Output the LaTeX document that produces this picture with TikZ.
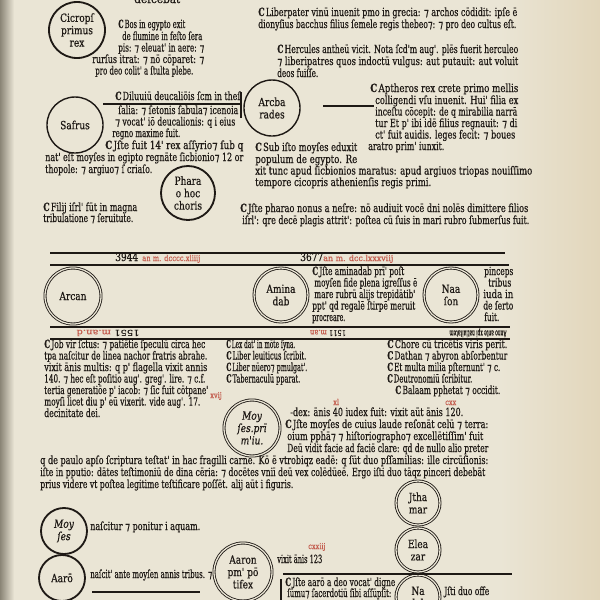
\documentclass[tikz,border=0pt]{standalone}
\usepackage{fontspec}
\usepackage{graphicx}
\newfontfamily\oldfont[FakeStretch=0.8, FakeBold=0.5]{DejaVu Serif}
\newfontfamily\etfont[FakeBold=0.5]{DejaVu Sans}
\definecolor{Paper}{HTML}{EAE5D5}
\definecolor{PaperEdge}{HTML}{E2D6BB}
\definecolor{Ink}{HTML}{1E1915}
\definecolor{Rubric}{HTML}{C45E50}
\definecolor{Binding}{HTML}{8A8576}
\newlength\pxu
\setlength\pxu{0.025cm}
\tikzset{
    txt/.style = {anchor=base west, inner sep=0pt, text=Ink,
        font=\oldfont\fontsize{8}{9}\selectfont},
    rubric/.style = {anchor=base west, inner sep=0pt, text=Rubric,
        font=\oldfont\fontsize{5.8}{6.5}\selectfont},
    ring/.style = {circle, draw=Ink, double=Paper, double distance=0.9pt,
        line width=0.6pt, inner sep=0pt, align=center, text=Ink,
        font=\oldfont\fontsize{8}{8.8}\selectfont},
    disc/.style = {circle, draw=Ink, line width=1.3pt, inner sep=0pt,
        align=center, text=Ink, font=\oldfont\fontsize{8}{8.8}\selectfont},
    rule/.style = {draw=Ink, line width=0.75pt}
}
\newcommand\tline[4]{\node[txt] at (#1,#2) {\resizebox{#3\pxu}{\height}{#4}};}
\newcommand\capit{{\bfseries C}\kern1pt}
\newcommand\et{{\etfont ⁊}}

\begin{document}
\begin{tikzpicture}[x=0.025cm,y=-0.025cm]
    \useasboundingbox (0,0) rectangle (600,600);
    \clip (0,0) rectangle (600,600);
    \fill[Paper] (0,0) rectangle (600,600);
    \shade[left color=Paper, right color=PaperEdge] (500,0) rectangle (600,600);
    \shade[left color=Binding, right color=Paper] (0,0) rectangle (14,600);

    % upper part of the page
    \tline{134}{3}{46}{deſcebāt}
    \node[disc, minimum size=1.4cm] (cicrops) at (77,30) {Cicropſ\\primus\\rex};
    \tline{118}{28}{67}{\capit Bos in egypto exit}
    \tline{122}{40}{80}{de flumine in feſto ſera}
    \tline{118}{51.5}{86}{pis: \et{} eleuat' in aere: \et}
    \tline{92}{63}{112}{rurſus itrat: \et{} nō cōparet: \et}
    \tline{95}{74.5}{98}{pro deo colit' a ſtulta plebe.}

    \tline{258}{16}{259}{\capit Liberpater vinū inuenit pmo in grecia: \et{} archos cōdidit: ipſe ē}
    \tline{258}{28}{258}{dionyſius bacchus filius ſemele regis thebeo\et: \et{} pro deo cultus eſt.}
    \tline{277}{53}{241}{\capit Hercules antheū vicit. Nota ſcd'm aug'. plēs fuerit herculeo}
    \tline{277}{65}{241}{\et{} liberipatres quos indoctū vulgus: aut putauit: aut voluit}
    \tline{277}{77}{41}{deos fuiſſe.}

    \node[disc, line width=1pt, minimum size=1.4cm] (safrus) at (75,125) {Safrus};
    \node[disc, line width=1pt, minimum size=1.4cm] (arcabades) at (272,108) {Arcba\\rades};
    \node[disc, minimum size=1.35cm] (pharao) at (188,193) {Phara\\o hoc\\choris};

    \tline{115}{100}{125}{\capit Diluuiū deucaliōis ſcm in theſ}
    \draw[rule] (103,104) -- (241,104);
    \draw[rule] (241,92) -- (241,118);
    \tline{118}{114}{120}{ſalia: \et{} ſetonis ſabula\et{} icenoia}
    \tline{115}{125.5}{120}{\et{} vocat' iō deucalionis: q i eius}
    \tline{112}{137}{68}{regno maxime fuit.}
    \tline{105}{149}{138}{\capit Jſte fuit 14' rex aſſyrio\et{} ſub q}
    \tline{45}{161}{198}{nat' eſt moyſes in egipto regnāte ſicbionio\et{} 12 or}
    \tline{45}{173}{107}{thopole: \et{} argiuo\et{} ſ criaſo.}
    \tline{43}{211}{94}{\capit Filij iſrl' fūt in magna}
    \tline{43}{222}{90}{tribulatione \et{} ſeruitute.}

    \draw[rule] (323,106) -- (374,106);
    \tline{370}{92}{148}{\capit Aptheros rex crete primo mellis}
    \tline{375}{104}{143}{colligendi vſu inuenit. Hui' filia ex}
    \tline{375}{115.5}{142}{inceſtu cōcepit: de q mirabilia narrā}
    \tline{375}{127}{142}{tur Et p' ibi idē filius regnauit: \et{} di}
    \tline{375}{138.5}{140}{ct' fuit auidis. leges fecit: \et{} boues}
    \tline{368}{150}{76}{aratro prim' iunxit.}

    \tline{255}{151}{102}{\capit Sub iſto moyſes eduxit}
    \tline{255}{163}{102}{populum de egypto. Re}
    \tline{255}{174.5}{277}{xit tunc apud ſicbionios maratus: apud argiuos triopas nouiſſimo}
    \tline{255}{186}{176}{tempore cicopris athenienſis regis primi.}
    \tline{240}{212}{288}{\capit Jſte pharao nonus a neſre: nō audiuit vocē dni nolēs dimittere filios}
    \tline{242}{224}{287}{iſrl': qre decē plagis attrit': poſtea cū ſuis in mari rubro ſubmerſus fuit.}

    % band of the generations
    \draw[rule] (50,253) -- (505,253);
    \node[txt] at (115,261) {3944};
    \node[rubric] at (142,261) {\resizebox{58\pxu}{\height}{an m. dcccc.xliiij}};
    \node[txt] at (300,261) {3677};
    \node[rubric] at (323,261) {\resizebox{70\pxu}{\height}{an m. dcc.lxxxviij}};
    \draw[rule] (50,265) -- (509,265);

    \node[ring, minimum size=1.4cm] (arcan) at (73,296) {Arcan};
    \node[ring, minimum size=1.35cm] (aminadab) at (281,295) {Amina\\dab};
    \node[ring, minimum size=1.35cm] (naason) at (451,295) {Naa\\ſon};
    \tline{312}{275}{92}{\capit Jſte aminadab prī' poſt}
    \tline{314}{286.5}{103}{moyſen fide plena igreſſus ē}
    \tline{314}{298}{101}{mare rubrū alijs trepidātib'}
    \tline{312}{309.5}{103}{ppt' qd regalē ſtirpē meruit}
    \tline{312}{321}{33}{procreare.}
    \tline{484}{275}{29}{pinceps}
    \tline{488}{286.5}{23}{tribus}
    \tline{483}{298}{30}{iuda in}
    \tline{483}{309.5}{30}{de ſerto}
    \tline{484}{321}{15}{fuit.}

    \draw[rule] (50,327) -- (510,327);
    \node[rubric, anchor=center, rotate=180] at (108,333) {\resizebox{63\pxu}{\height}{\textcolor{Ink}{1551} m.an.d}};
    \node[rubric, anchor=center, rotate=180] at (328,333) {\resizebox{36\pxu}{\height}{\textcolor{Ink}{1511} m.an}};
    \node[txt, anchor=center, rotate=180, font=\oldfont\fontsize{6.5}{7}\selectfont] at (478,333) {\resizebox{57\pxu}{\height}{Anno ante xpi natiuitatem}};
    \draw[rule] (50,339) -- (510,339);

    % columns under the band
    \tline{44}{348}{161}{\capit Job vir ſctus: \et{} patiētie ſpeculū circa hec}
    \tline{44}{359.5}{163}{tpa naſcitur de linea nachor fratris abrahe.}
    \tline{44}{371}{163}{vixit ānis multis: q p' flagella vixit annis}
    \tline{44}{382.5}{161}{140. \et{} hec eſt poſitio aug'. greg'. lire. \et{} c.f.}
    \tline{44}{394}{164}{tertia generatiōe p' iacob: \et{} ſic fuit cōtpane'}
    \tline{44}{405.5}{156}{moyſi licet diu p' eū vixerit. vide aug'. 17.}
    \tline{44}{417}{56}{decinitate dei.}
    \node[rubric] at (210,398) {xvij};

    \tline{226}{348}{69}{\capit Lex dat' in mōte ſyna.}
    \tline{226}{359.5}{80}{\capit Liber leuiticus ſcribit.}
    \tline{226}{371}{81}{\capit Liber nūero\et{} pmulgat'.}
    \tline{226}{382.5}{74}{\capit Tabernaculū pparat.}

    \tline{387}{348}{120}{\capit Chore cū tricētis viris perit.}
    \tline{387}{359.5}{120}{\capit Dathan \et{} abyron abſorbentur}
    \tline{387}{371}{113}{\capit Et multa milia pſternunt' \et{} c.}
    \tline{387}{382.5}{85}{\capit Deutronomiū ſcribitur.}
    \tline{395}{394}{105}{\capit Balaam pphetat \et{} occidit.}

    \node[ring, minimum size=1.4cm, font=\oldfont\itshape\fontsize{8}{8.8}\selectfont] (moyses) at (252,428) {Moy\\ſes.prī\\m'iu.};
    \node[rubric] at (333,405) {xl};
    \node[rubric] at (445,405) {cxx};
    \tline{290}{416}{173}{-dex: ānis 40 iudex fuit: vixit aūt ānis 120.}
    \tline{285}{428}{203}{\capit Jſte moyſes de cuius laude reſonāt celū \et{} terra:}
    \tline{287}{440}{196}{oium pphā\et{} \et{} hiſtoriographo\et{} excellētiſſim' fuit}
    \tline{287}{452}{201}{Deū vidit facie ad faciē clare: qd de nullo alio preter}
    \tline{40}{464}{448}{q de paulo apſo ſcriptura teſtat' in hac fragilli carne. Kō ē vtrobiqz eadē: q ſūt duo pſſamilias: ille circūſionis:}
    \tline{40}{476}{445}{iſte in pputio: dātes teſtimoniū de dina cēria: \et{} docētes vniī deū vex colēdūeē. Ergo iſti duo tāqz pinceri debebāt}
    \tline{40}{488}{253}{prius videre vt poſtea legitime teſtificare poſſēt. alij aūt i figuris.}

    % lower part of the page
    \node[ring, minimum size=1.1cm] (ithamar) at (418,503) {Jtha\\mar};
    \node[ring, minimum size=1.1cm] (eleazar) at (418,550) {Elea\\zar};
    \node[ring, minimum size=1.1cm] (nadab) at (418,597) {Na\\dab};

    \node[disc, minimum size=1.15cm, font=\oldfont\itshape\fontsize{8}{8.8}\selectfont] (moysesinf) at (64,531) {Moy\\ſes};
    \tline{90}{530}{110}{naſcitur \et{} ponitur i aquam.}
    \node[disc, minimum size=1.15cm] (aaro) at (62,578) {Aarō};
    \tline{90}{578}{122}{naſcit' ante moyſen annis tribus. \et}
    \draw[rule] (92,592) -- (200,592);

    \node[ring, minimum size=1.45cm] (aaronpont) at (243,572) {Aaron\\pm' pō\\tifex};
    \tline{277}{563}{45}{vixit ānis 123}
    \node[rubric] at (308,549) {cxxiij};
    \draw[rule] (283,574) -- (512,574);
    \draw[rule] (281,579) -- (281,600);
    \tline{285}{586}{110}{\capit Jſte aarō a deo vocat' digne}
    \tline{287}{597}{104}{ſūmu\et{} ſacerdotiū ſibi aſſūpſit:}
    \tline{444}{595}{45}{Jſti duo offe}
\end{tikzpicture}
\end{document}
